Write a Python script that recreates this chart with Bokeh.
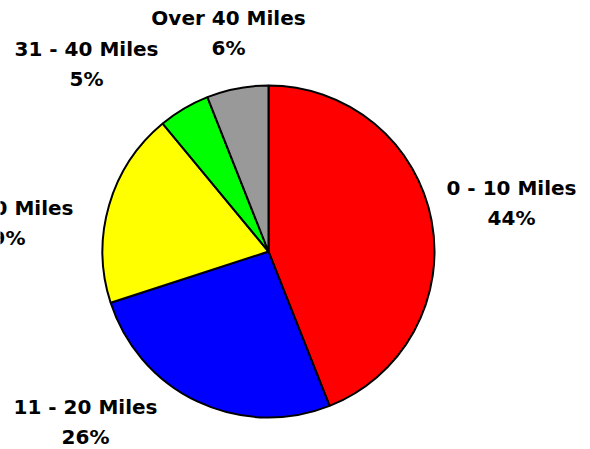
import numpy as np
from bokeh.plotting import figure
from bokeh.models import Range1d, ColumnDataSource
from bokeh.core.properties import value
from bokeh.embed import file_html
from bokeh.resources import INLINE

categories = ["0 - 10 Miles", "11 - 20 Miles", "21 - 30 Miles", "31 - 40 Miles", "Over 40 Miles"]
percents = [44, 26, 19, 5, 6]
colors = ["#FF0000", "#0000FF", "#FFFF00", "#00FF00", "#999999"]

# layout (picture pixel coordinates)
W, H = 590, 449
cx, cy, r = 268, 251, 166
label_pos = [(511, 187), (85, 406), (1, 207), (86, 48), (228, 17)]
line_gap = 30

vals = np.array(percents, dtype=float)
frac = vals / vals.sum()
cum = np.concatenate([[0], np.cumsum(frac)])
start = np.pi / 2 - cum[1:] * 2 * np.pi
end = np.pi / 2 - cum[:-1] * 2 * np.pi

def Y(py):
    return H - py

p = figure(width=W, height=H, output_backend="svg", toolbar_location=None,
           x_range=Range1d(0, W), y_range=Range1d(0, H),
           min_border=0)
p.axis.visible = False
p.grid.visible = False
p.outline_line_color = None
p.background_fill_color = "white"

src = ColumnDataSource(dict(start=start, end=end, color=colors))
p.wedge(x=cx, y=Y(cy), radius=r, start_angle="start", end_angle="end",
        fill_color="color", line_color="black", line_width=2, source=src)

lx = [pp[0] for pp in label_pos]
ly1 = [Y(pp[1]) for pp in label_pos]
ly2 = [Y(pp[1] + line_gap) for pp in label_pos]
pct_txt = [f"{v}%" for v in percents]
for ys, txt in ((ly1, categories), (ly2, pct_txt)):
    p.text(x=lx, y=ys, text=txt, text_font=value("DejaVu Sans"),
           text_font_style="bold", text_font_size="20px", text_color="black",
           text_align="center", text_baseline="middle")

open("out.html", "w").write(file_html(p, INLINE))
